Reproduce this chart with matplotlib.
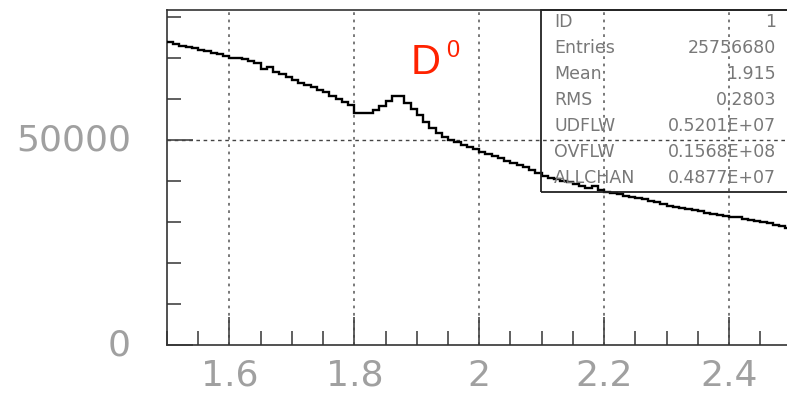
import numpy as np
import matplotlib
matplotlib.use("Agg")
import matplotlib.pyplot as plt
from matplotlib.patches import Rectangle
from matplotlib.ticker import MultipleLocator, FixedLocator

plt.rcParams['font.family'] = ['DejaVu Sans']

# Histogram definition: 100 bins of width 0.01 between 1.5 and 2.5
bin_low = 1.5
bin_high = 2.5
counts = [
    73900, 73400, 73000, 72800, 72400, 72000, 71600, 71300, 70900, 70500,
    70100, 69900, 69700, 69300, 68700, 67200, 67800, 66500, 66000, 65300,
    64700, 64000, 63400, 62900, 62300, 61800, 60800, 60100, 59300, 58600,
    56600, 56600, 56600, 57300, 58400, 59500, 60700, 60700, 59000, 57500,
    56100, 54500, 52900, 51700, 50800, 50100, 49400, 48900, 48400, 47800,
    47000, 46500, 46100, 45600, 45000, 44500, 44000, 43300, 42600, 42000,
    41200, 40800, 40500, 40000, 39700, 39200, 38700, 38400, 38700, 37800,
    37400, 37100, 36900, 36400, 36200, 35900, 35500, 35100, 34800, 34300,
    34000, 33700, 33500, 33100, 32900, 32600, 32300, 32000, 31800, 31500,
    31100, 31300, 30700, 30500, 30300, 30100, 29700, 29300, 29000, 28600,
]

x_major = [1.6, 1.8, 2.0, 2.2, 2.4]
x_labels = ['1.6', '1.8', '2', '2.2', '2.4']
y_major = [0, 50000]
y_labels = ['0', '50000']

stat_names = ['ID', 'Entries', 'Mean', 'RMS', 'UDFLW', 'OVFLW', 'ALLCHAN']
stat_values = ['1', '25756680', '1.915', '0.2803', '0.5201E+07', '0.1568E+08', '0.4877E+07']

peak_label = 'D'
peak_super = '0'

W, H = 787, 395
fig = plt.figure(figsize=(W / 100, H / 100), dpi=100)


def fx(px):
    return px / W


def fy(py):
    return 1 - py / H


ax = fig.add_axes([fx(167), fy(345), (791.5 - 167) / W, (345 - 9.5) / H])
ax.set_xlim(bin_low, bin_high)
ax.set_ylim(0, 81830)

edges = np.linspace(bin_low, bin_high, len(counts) + 1)
ax.stairs(counts, edges, baseline=None, color='black', linewidth=1.7, zorder=3)

# axes ticks
ax.xaxis.set_major_locator(FixedLocator(x_major))
ax.set_xticklabels(x_labels)
ax.xaxis.set_minor_locator(MultipleLocator(0.05))
ax.yaxis.set_major_locator(FixedLocator(y_major))
ax.set_yticklabels(y_labels)
ax.yaxis.set_minor_locator(MultipleLocator(10000))

label_color = '#a0a0a0'
ax.tick_params(axis='x', which='major', direction='in', length=20, width=1.2,
               color='#444444', labelsize=26, labelcolor=label_color, pad=10)
ax.tick_params(axis='x', which='minor', direction='in', length=10, width=1.2,
               color='#444444')
ax.tick_params(axis='y', which='major', direction='in', length=19, width=1.2,
               color='#444444', labelsize=26, labelcolor=label_color, pad=26)
ax.tick_params(axis='y', which='minor', direction='in', length=10, width=1.2,
               color='#444444')
for lab in ax.get_yticklabels():
    lab.set_verticalalignment('center')

for s in ax.spines.values():
    s.set_color('#333333')
    s.set_linewidth(1.2)

# grid: dotted verticals at the major x ticks, dashed horizontal at 50000
for xv in x_major:
    ax.axvline(xv, color='#555555', linewidth=1.1, linestyle=(0, (1.8, 3.0)), zorder=1)
ax.axhline(y_major[1], color='#444444', linewidth=1.0, linestyle=(0, (2.6, 2.6)), zorder=1)

# statistics box
box = Rectangle((fx(541), fy(191.7)), (W + 10 - 541) / W, (191.7 - 9.5) / H,
                transform=fig.transFigure, fill=False, edgecolor='#222222',
                linewidth=1.3, zorder=5)
fig.add_artist(box)
row_y = [22, 48, 74, 100, 126, 152, 178]
for name, val, yy in zip(stat_names, stat_values, row_y):
    fig.text(fx(554), fy(yy), name, ha='left', va='center', fontsize=12.5,
             color='#787878')
    fig.text(fx(776), fy(yy), val, ha='right', va='center', fontsize=12.5,
             color='#787878')

# peak annotation
fig.text(fx(411), fy(63), peak_label, ha='left', va='center', fontsize=30,
         color='#ff2200', family=['Liberation Sans', 'DejaVu Sans'])
fig.text(fx(446), fy(51), peak_super, ha='left', va='center', fontsize=17,
         color='#ff2200', family=['Liberation Sans', 'DejaVu Sans'])

fig.savefig('out.png', dpi=100)
